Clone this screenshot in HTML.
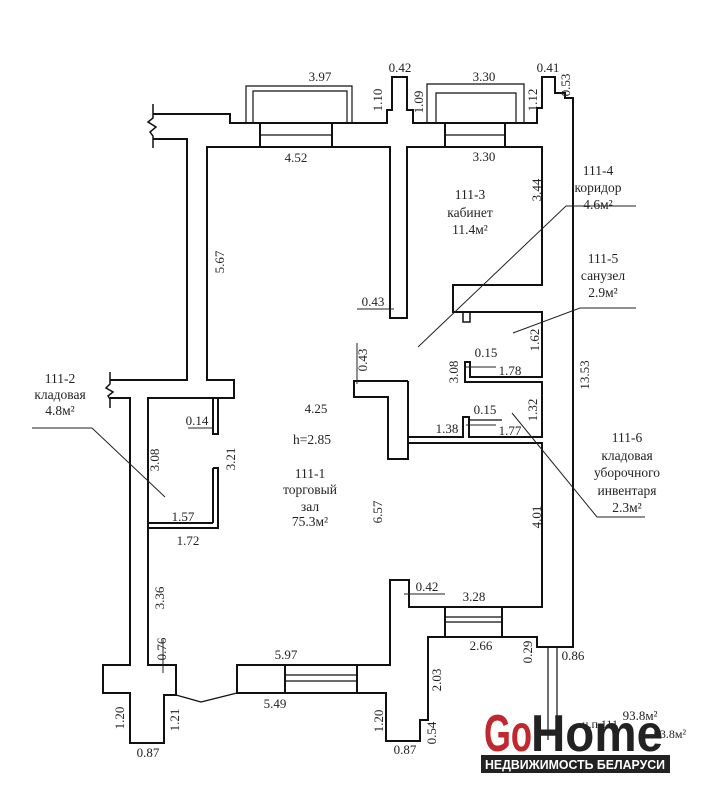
<!DOCTYPE html>
<html><head><meta charset="utf-8"><style>
html,body{margin:0;padding:0;background:#fff;}
svg{display:block}
text{font-family:"Liberation Serif",serif;font-size:13px;fill:#222}
.l{font-family:"Liberation Serif",serif;font-size:13.5px}
</style></head><body>
<svg width="718" height="800" viewBox="0 0 718 800" xmlns="http://www.w3.org/2000/svg">
<g fill="none" stroke="#111" stroke-width="2">
<!-- top outer wall -->
<polyline points="153,114 230,114 230,123 260,123"/>
<polyline points="332,123 387,123 387,110 392,110 392,77 407,77 407,110 413,110 413,123 445,123"/>
<polyline points="505,123 537,123 537,108 542,108 542,77 555,77 555,93 565,93 565,98 573,98 573,647 537,647 537,637 502,637"/>
<!-- top left wiggle -->
<polyline points="153,104 153,118 148,122 156,127 150,132 153,136 153,148" stroke-width="1.5"/>
<polyline points="153,139 187,139 187,380 110,380"/>
<polyline points="110,372 110,384 106,388 113,392 108,396 110,399 110,408" stroke-width="1.5"/>
<!-- windows top -->
<rect x="260" y="123" width="72" height="24"/>
<line x1="260" y1="135" x2="332" y2="135" stroke-width="1.2"/>
<rect x="445" y="123" width="60" height="24"/>
<line x1="445" y1="135" x2="505" y2="135" stroke-width="1.2"/>
<polyline points="246,123 246,86 352,86 352,123" stroke-width="1.2"/>
<polyline points="253,123 253,91 347,91 347,123" stroke-width="1.2"/>
<polyline points="427,123 427,84 524,84 524,123" stroke-width="1.2"/>
<polyline points="436,123 436,93 516,93 516,123" stroke-width="1.2"/>
<!-- hall inner -->
<polyline points="260,147 207,147 207,380 234,380 234,398 148,398 148,665 176,665 176,695 164,695 164,743 130,743 130,693 103,693 103,665 130,665 130,398 110,398"/>
<polyline points="332,147 390,147 390,318 407,318 407,147 445,147"/>
<polyline points="505,147 542,147 542,285 453,285 453,312 542,312 542,377 470,377 470,362 465,362 465,382 542,382 542,420"/>
<rect x="463" y="312" width="7" height="10" stroke-width="1.5"/>
<polyline points="542,420 542,437 469,437 469,417 463,417 463,437 408,437"/>
<polyline points="408,443 542,443 542,607 502,607"/>
<line x1="469" y1="420" x2="502" y2="420" stroke-width="1.2"/>
<polyline points="408,381 354,381 354,397 388,397 388,459 408,459 408,381"/>
<!-- storage 111-2 -->
<polyline points="213,398 213,434 218,434 218,398"/>
<polyline points="213,468 218,468 218,528 148,528"/>
<line x1="148" y1="523" x2="213" y2="523"/>
<line x1="213" y1="468" x2="213" y2="523"/>
<!-- bottom -->
<line x1="176" y1="695" x2="201" y2="702" stroke-width="1.3"/>
<line x1="201" y1="702" x2="237" y2="693" stroke-width="1.3"/>
<rect x="237" y="665" width="120" height="28"/>
<line x1="285" y1="665" x2="285" y2="693"/>
<line x1="285" y1="675" x2="357" y2="675" stroke-width="1.2"/>
<line x1="285" y1="681" x2="357" y2="681" stroke-width="1.2"/>
<polyline points="357,665 390,665 390,580 409,580 409,607 445,607"/>
<rect x="445" y="607" width="57" height="30"/>
<line x1="445" y1="617" x2="502" y2="617" stroke-width="1.2"/>
<line x1="445" y1="622" x2="502" y2="622" stroke-width="1.2"/>
<polyline points="445,637 428,637 428,720 420,720 420,741 386,741 386,693 357,693"/>
<line x1="548" y1="647" x2="548" y2="740" stroke-width="1.2"/>
<line x1="557" y1="647" x2="557" y2="740" stroke-width="1.2"/>
</g>
<!-- leader/dim lines -->
<g fill="none" stroke="#222" stroke-width="1">
<polyline points="418,347 566,206 636,206"/>
<polyline points="513,333 580,308 636,308"/>
<polyline points="512,413 597,517 645,517"/>
<polyline points="32,428 92,428 165,497"/>
<line x1="357" y1="309" x2="394" y2="309"/>
<line x1="357" y1="343" x2="357" y2="384"/>
<line x1="188" y1="428" x2="213" y2="428"/>
<line x1="404" y1="594" x2="445" y2="594"/>
<line x1="163" y1="640" x2="163" y2="673"/>
<line x1="466" y1="367" x2="496" y2="367"/>
<line x1="466" y1="425" x2="496" y2="425"/>
</g>
<g text-anchor="middle">
<text x="320" y="81">3.97</text><text x="400" y="72">0.42</text><text x="484" y="81">3.30</text><text x="548" y="72">0.41</text>
<text x="296" y="162">4.52</text><text x="484" y="161">3.30</text>
<text x="470" y="199" class="l">111-3</text><text x="470" y="217" class="l">кабинет</text><text x="470" y="234" class="l">11.4м²</text>
<text x="373" y="306">0.43</text>
<text x="598" y="175" class="l">111-4</text><text x="598" y="192" class="l">коридор</text><text x="598" y="209" class="l">4.6м²</text>
<text x="603" y="263" class="l">111-5</text><text x="603" y="280" class="l">санузел</text><text x="603" y="297" class="l">2.9м²</text>
<text x="486" y="357">0.15</text><text x="510" y="375">1.78</text>
<text x="316" y="413">4.25</text><text x="485" y="414">0.15</text><text x="447" y="433">1.38</text><text x="510" y="435">1.77</text>
<text x="312" y="444" class="l">h=2.85</text>
<text x="310" y="478" class="l">111-1</text><text x="310" y="494" class="l">торговый</text><text x="310" y="511" class="l">зал</text><text x="310" y="526" class="l">75.3м²</text>
<text x="627" y="442" class="l">111-6</text><text x="627" y="460" class="l">кладовая</text><text x="627" y="477" class="l">уборочного</text><text x="627" y="495" class="l">инвентаря</text><text x="627" y="512" class="l">2.3м²</text>
<text x="60" y="383" class="l">111-2</text><text x="60" y="399" class="l">кладовая</text><text x="60" y="415" class="l">4.8м²</text>
<text x="197" y="425">0.14</text><text x="183" y="521">1.57</text><text x="188" y="545">1.72</text>
<text x="427" y="591">0.42</text><text x="474" y="601">3.28</text><text x="481" y="650">2.66</text><text x="573" y="660">0.86</text>
<text x="286" y="659">5.97</text><text x="275" y="708">5.49</text>
<text x="148" y="757">0.87</text><text x="405" y="754">0.87</text>
</g>
<g text-anchor="middle">
<text transform="translate(382,100) rotate(-90)">1.10</text>
<text transform="translate(423,102) rotate(-90)">1.09</text>
<text transform="translate(537,100) rotate(-90)">1.12</text>
<text transform="translate(570,85) rotate(-90)">0.53</text>
<text transform="translate(541,190) rotate(-90)">3.44</text>
<text transform="translate(224,262) rotate(-90)">5.67</text>
<text transform="translate(367,360) rotate(-90)">0.43</text>
<text transform="translate(458,372) rotate(-90)">3.08</text>
<text transform="translate(539,340) rotate(-90)">1.62</text>
<text transform="translate(589,375) rotate(-90)">13.53</text>
<text transform="translate(537,410) rotate(-90)">1.32</text>
<text transform="translate(382,512) rotate(-90)">6.57</text>
<text transform="translate(541,517) rotate(-90)">4.01</text>
<text transform="translate(159,460) rotate(-90)">3.08</text>
<text transform="translate(235,459) rotate(-90)">3.21</text>
<text transform="translate(164,598) rotate(-90)">3.36</text>
<text transform="translate(166,649) rotate(-90)">0.76</text>
<text transform="translate(532,652) rotate(-90)">0.29</text>
<text transform="translate(441,680) rotate(-90)">2.03</text>
<text transform="translate(124,718) rotate(-90)">1.20</text>
<text transform="translate(179,720) rotate(-90)">1.21</text>
<text transform="translate(383,721) rotate(-90)">1.20</text>
<text transform="translate(436,733) rotate(-90)">0.54</text>
</g>
<text x="640" y="720" text-anchor="middle">93.8м²</text>
<text x="600" y="728" text-anchor="middle" style="font-size:12px">н.п 111</text>
<text x="670" y="738" text-anchor="middle" style="font-size:12px">93.8м²</text>
<!-- logo -->
<text x="484" y="751" textLength="48" lengthAdjust="spacingAndGlyphs" style="font-family:'Liberation Sans',sans-serif;font-weight:bold;font-size:52px;fill:#c1272d">Go</text>
<text x="531" y="751" textLength="132" lengthAdjust="spacingAndGlyphs" style="font-family:'Liberation Sans',sans-serif;font-weight:bold;font-size:52px;fill:#222">Home</text>
<rect x="481" y="755" width="189" height="18" fill="#222"/>
<text x="575" y="769" text-anchor="middle" textLength="180" lengthAdjust="spacingAndGlyphs" style="font-family:'Liberation Sans',sans-serif;font-weight:bold;font-size:13px;fill:#fff">НЕДВИЖИМОСТЬ БЕЛАРУСИ</text>
</svg>
</body></html>
